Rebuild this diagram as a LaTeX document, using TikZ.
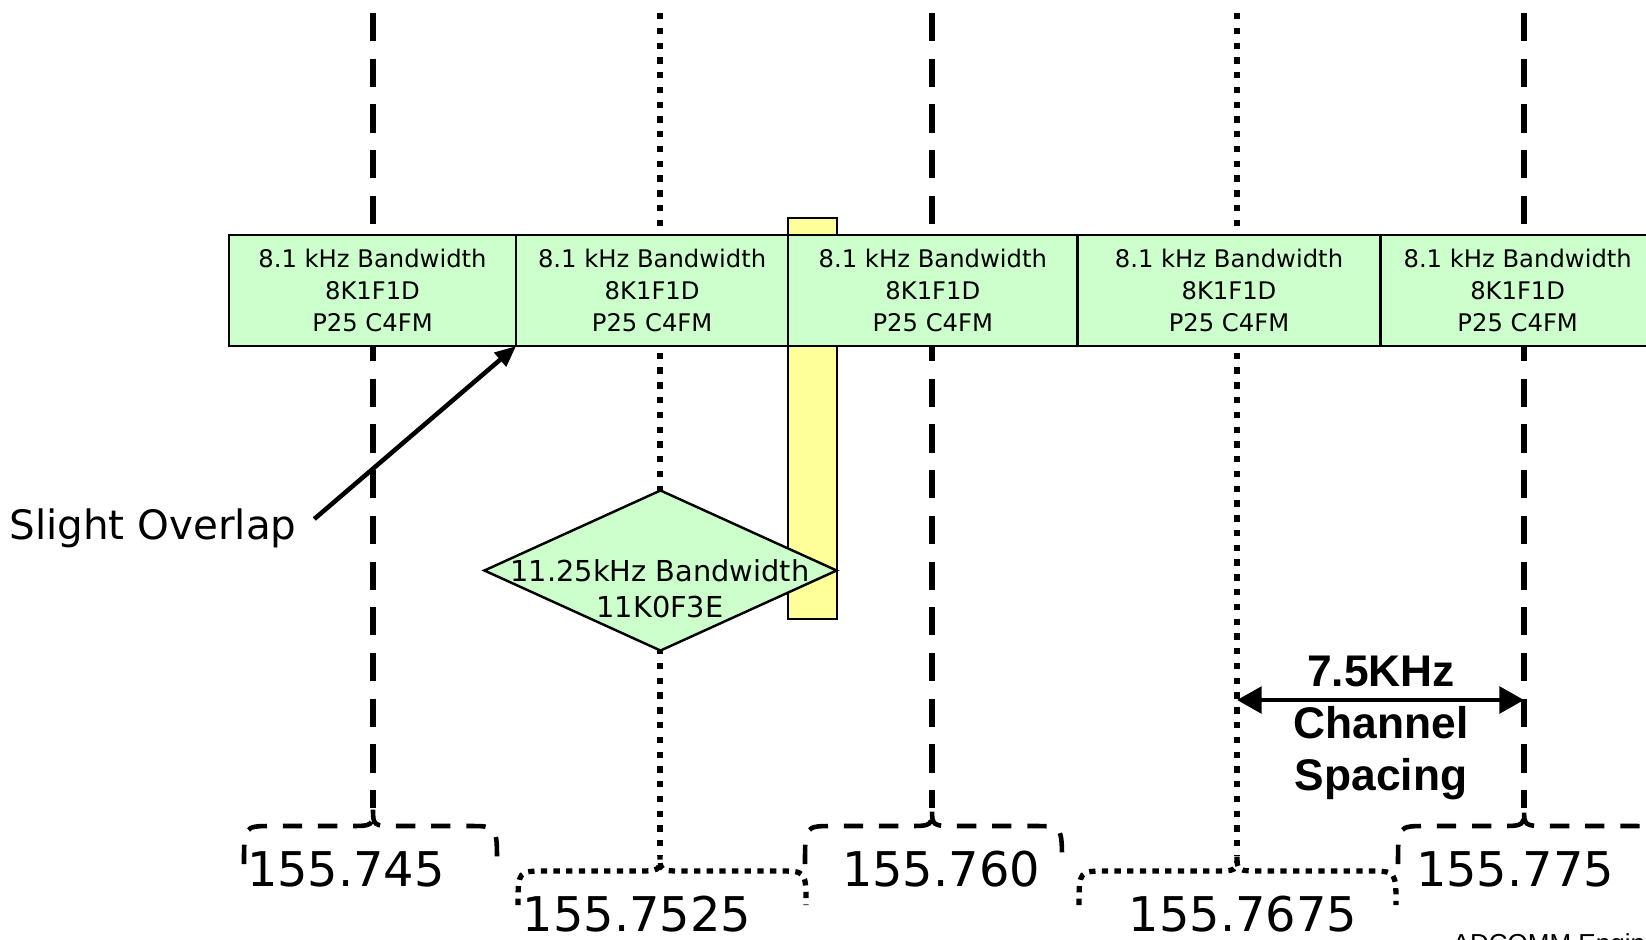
\documentclass[tikz,border=0pt]{standalone}
\usepackage{fontspec}
\setmainfont{DejaVu Sans}
\newfontfamily\spacingfont{Liberation Sans}
\usetikzlibrary{shapes.geometric, arrows.meta, positioning}
\definecolor{chgreen}{RGB}{204,255,204}
\definecolor{guardyellow}{RGB}{255,255,153}

\tikzset{
    chanbox/.style={draw=black, line width=0.7pt, fill=chgreen, inner sep=0pt, outer sep=0pt,
        minimum height=1.11cm, align=center, font=\fontsize{6.9}{9}\selectfont},
    dashline/.style={line width=1.5pt, dash pattern=on 8pt off 5pt},
    dotline/.style={line width=1.5pt, dash pattern=on 1.8pt off 2.4pt},
    dashbrace/.style={line width=1.3pt, dash pattern=on 5.5pt off 4.5pt},
    dotbrace/.style={line width=1.5pt, dash pattern=on 1.8pt off 1.8pt},
    freqlabel/.style={font=\fontsize{13.6}{16}\selectfont, inner sep=0pt},
}

\begin{document}
\begin{tikzpicture}[x=0.01cm, y=-0.01cm]
    \clip (0,0) rectangle (1646,939);
    \fill[white] (0,0) rectangle (1646,939);

    % Channel centre lines
    \foreach \x in {373, 932, 1524} {
        \draw[dashline] (\x,13) -- (\x,808);
    }
    \foreach \x in {660, 1237} {
        \draw[dotline] (\x,13) -- (\x,855);
    }

    % Braces under the centre lines
    \foreach \xl/\xm/\xr in {244/373/497, 805/932/1062, 1398/1524/1660} {
        \draw[dashbrace] (\xl,864) .. controls (\xl,826) .. (\xl+28,826) -- (\xm-25,826)
            .. controls (\xm,826) .. (\xm,808) .. controls (\xm,826) .. (\xm+25,826)
            -- (\xr-28,826) .. controls (\xr,826) .. (\xr,864);
    }
    \foreach \xl/\xm/\xr in {518/660/806, 1079/1237/1396} {
        \draw[dotbrace] (\xl,905) .. controls (\xl,871) .. (\xl+28,871) -- (\xm-25,871)
            .. controls (\xm,871) .. (\xm,855) .. controls (\xm,871) .. (\xm+25,871)
            -- (\xr-28,871) .. controls (\xr,871) .. (\xr,905);
    }

    % Overlap bar
    \node[draw=black, line width=0.7pt, fill=guardyellow, inner sep=0pt,
        minimum width=0.49cm, minimum height=4.01cm] (guard) at (812.5,418.5) {};

    % Channels
    \node[chanbox, minimum width=2.87cm] (ch1) at (372.5,290.5) {8.1 kHz Bandwidth\\8K1F1D\\P25 C4FM};
    \node[chanbox, minimum width=2.72cm, right=0pt of ch1] (ch2) {8.1 kHz Bandwidth\\8K1F1D\\P25 C4FM};
    \node[chanbox, minimum width=2.89cm, right=0pt of ch2] (ch3) {8.1 kHz Bandwidth\\8K1F1D\\P25 C4FM};
    \node[chanbox, minimum width=3.03cm, right=0pt of ch3] (ch4) {8.1 kHz Bandwidth\\8K1F1D\\P25 C4FM};
    \node[chanbox, minimum width=2.74cm, right=0pt of ch4] (ch5) {8.1 kHz Bandwidth\\8K1F1D\\P25 C4FM};

    % Wide channel
    \node[diamond, draw=black, line width=0.7pt, fill=chgreen, inner sep=0pt,
        minimum width=3.53cm, minimum height=1.61cm] (wide) at (660.5,570.5) {};
    \node[font=\fontsize{8.2}{10.2}\selectfont, align=center] (widetext) at (660,589) {11.25kHz Bandwidth\\11K0F3E};

    % Slight overlap
    \node[font=\fontsize{11.5}{14}\selectfont, inner sep=2pt] (overlap) at (153,528) {Slight Overlap};
    \draw[line width=1.3pt, -{Triangle[length=6pt,width=5pt]}] ([shift={(10,-9)}]overlap.east) -- (ch1.south east);

    % Channel spacing
    \coordinate (spl) at (1237,700);
    \coordinate (spr) at (1524,700);
    \node[font=\spacingfont\bfseries\fontsize{12.6}{14.8}\selectfont, align=center] (spacing) at (1381,728) {7.5KHz\\Channel\\Spacing};
    \draw[line width=1.3pt, {Triangle[length=7pt,width=7.5pt]}-{Triangle[length=7pt,width=7.5pt]}] (spl) -- (spr);

    % Frequencies
    \node[freqlabel] (f745) at (346,869) {155.745};
    \node[freqlabel] (f7525) at (637,914) {155.7525};
    \node[freqlabel] (f760) at (941,869) {155.760};
    \node[freqlabel] (f7675) at (1243,914) {155.7675};
    \node[freqlabel] (f775) at (1515,869) {155.775};

    \node[font=\spacingfont\fontsize{7.4}{8}\selectfont, anchor=north west, inner sep=0pt] (footer) at (1452,933) {ADCOMM Engineering};
\end{tikzpicture}
\end{document}
